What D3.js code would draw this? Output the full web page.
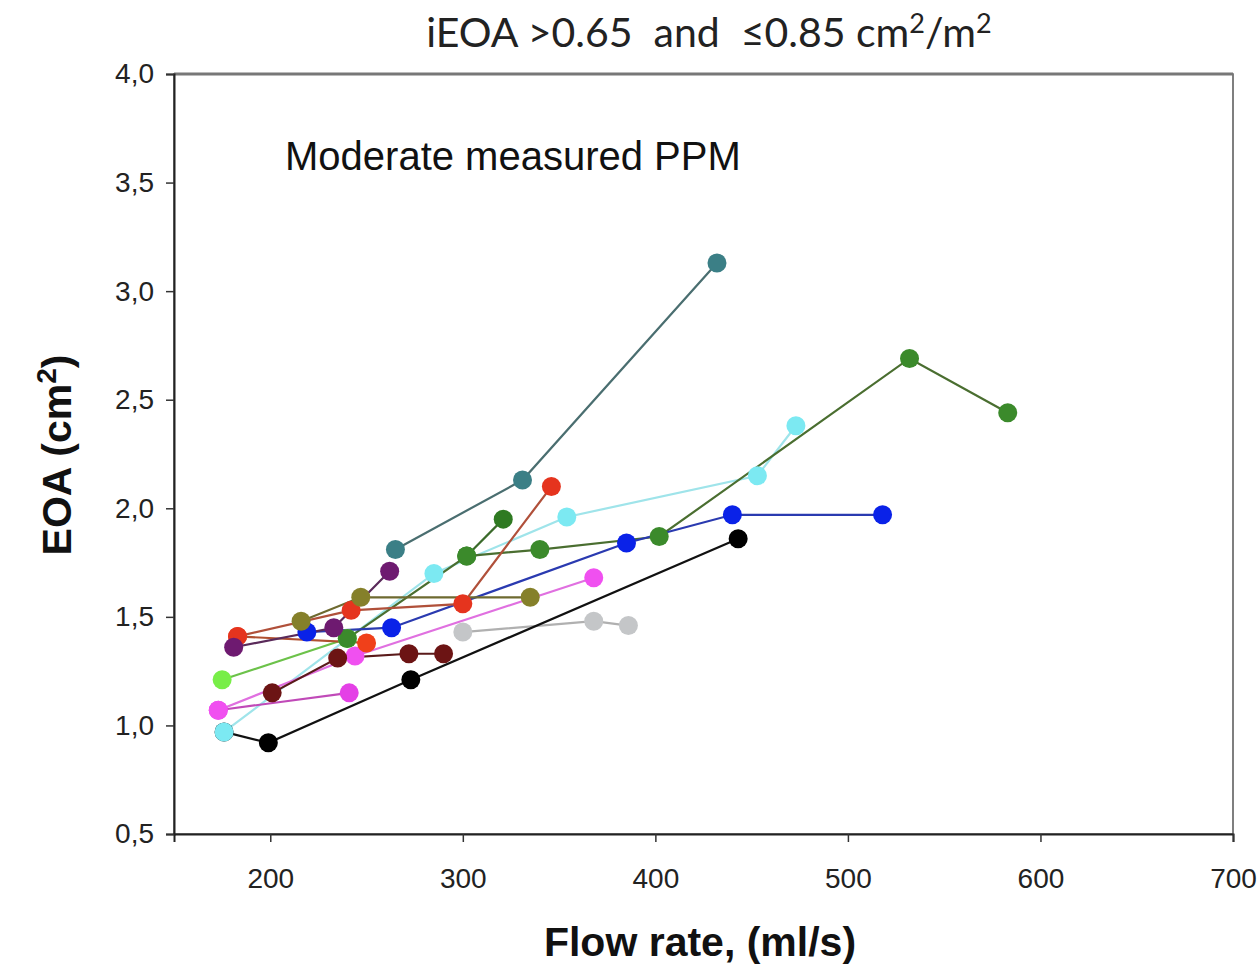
<!DOCTYPE html>
<html>
<head>
<meta charset="utf-8">
<script src="https://cdn.jsdelivr.net/npm/d3@7"></script>
<style>
  body { margin: 0; background: #fff; }
  svg text { font-family: "Liberation Sans", Arial, sans-serif; }
</style>
</head>
<body>
<svg id="chart" width="1259" height="967"></svg>
<script>
// axis ticks
const xTicks = [200, 300, 400, 500, 600, 700];
const yTicks = [0.5, 1.0, 1.5, 2.0, 2.5, 3.0, 3.5, 4.0];

// one array per patient: [flow, EOA]
const teal    = [[265, 1.81], [331, 2.13], [432, 3.13]];
const green   = [[240, 1.40], [302, 1.78], [340, 1.81], [402, 1.87], [532, 2.69], [583, 2.44]];
const green2  = [[302, 1.78], [321, 1.95]];
const lime    = [[175, 1.21], [240, 1.40]];
const red     = [[183, 1.41], [242, 1.53], [300, 1.56], [346, 2.10]];
const orange  = [[183, 1.41], [250, 1.38]];
const purple  = [[181, 1.36], [233, 1.45], [262, 1.71]];
const olive   = [[216, 1.48], [247, 1.59], [335, 1.59]];
const blue    = [[219, 1.43], [263, 1.45], [385, 1.84], [440, 1.97], [518, 1.97]];
const cyan    = [[176, 0.97], [285, 1.70], [354, 1.96], [453, 2.15], [473, 2.38]];
const magenta = [[173, 1.07], [241, 1.15]];
const pink    = [[173, 1.07], [244, 1.32], [368, 1.68]];
const maroon  = [[201, 1.15], [235, 1.31], [272, 1.33], [290, 1.33]];
const black   = [[176, 0.97], [199, 0.92], [273, 1.21], [443, 1.86]];
const gray    = [[300, 1.43], [368, 1.48], [386, 1.46]];

const series = [
  { pts: gray,    fill: "#c4c6c8", line: "#b0b0b0" },
  { pts: black,   fill: "#000000", line: "#111111" },
  { pts: cyan,    fill: "#7ce9f2", line: "#9fe4ea" },
  { pts: lime,    fill: "#78ee48", line: "#6cc24a" },
  { pts: magenta, fill: "#e440e6", line: "#c04ab8" },
  { pts: pink,    fill: "#f050f0", line: "#e070e0" },
  { pts: maroon,  fill: "#6c1414", line: "#5a1a1a" },
  { pts: teal,    fill: "#3b7f86", line: "#4a6e70" },
  { pts: green2,  fill: "#2f7a22", line: "#3a6a2a" },
  { pts: green,   fill: "#3b8a2b", line: "#4a6e30" },
  { pts: blue,    fill: "#0a22e8", line: "#2a3ab0" },
  { pts: orange,  fill: "#f0401a", line: "#b05030" },
  { pts: red,     fill: "#e5341e", line: "#b0503a" },
  { pts: olive,   fill: "#85802a", line: "#6e6a30" },
  { pts: purple,  fill: "#6e1a70", line: "#5a2a5a" }
];

const svg = d3.select("#chart");
const pLeft = 174, pRight = 1233, pTop = 74, pBottom = 834;

const x = d3.scaleLinear().domain([150, 700]).range([pLeft, pRight]);
const y = d3.scaleLinear().domain([0.5, 4.0]).range([pBottom, pTop]);

// frame
svg.append("rect")
  .attr("x", pLeft).attr("y", pTop)
  .attr("width", pRight - pLeft).attr("height", pBottom - pTop)
  .attr("fill", "none").attr("stroke", "#555").attr("stroke-width", 1.5);
svg.append("line")
  .attr("x1", pLeft).attr("x2", pRight).attr("y1", pTop).attr("y2", pTop)
  .attr("stroke", "#777").attr("stroke-width", 3);

const xAxis = svg.append("g")
  .attr("transform", "translate(0," + pBottom + ")")
  .call(d3.axisBottom(x).tickValues(xTicks).tickSize(8).tickPadding(26));
const yAxis = svg.append("g")
  .attr("transform", "translate(" + pLeft + ",0)")
  .call(d3.axisLeft(y).tickValues(yTicks).tickSize(8).tickPadding(12)
    .tickFormat(d => d3.format(".1f")(d).replace(".", ",")));

[xAxis, yAxis].forEach(g => {
  g.select(".domain").attr("stroke", "#222").attr("stroke-width", 2);
  g.selectAll(".tick line").attr("stroke", "#333").attr("stroke-width", 1.5);
  g.selectAll(".tick text")
    .attr("font-size", 28).attr("fill", "#222")
    .style("font-family", "'Liberation Sans', Arial, sans-serif");
});

const line = d3.line().x(d => x(d[0])).y(d => y(d[1]));

const plot = svg.append("g");
series.forEach(s => {
  plot.append("path")
    .attr("d", line(s.pts))
    .attr("fill", "none")
    .attr("stroke", s.line)
    .attr("stroke-width", 2.2);
});
series.forEach(s => {
  plot.selectAll(null)
    .data(s.pts)
    .enter()
    .append("circle")
    .attr("cx", d => x(d[0]))
    .attr("cy", d => y(d[1]))
    .attr("r", 9.5)
    .attr("fill", s.fill);
});

// texts
svg.append("text")
  .attr("x", 709).attr("y", 47)
  .attr("text-anchor", "middle")
  .attr("font-size", 41).attr("fill", "#222")
  .style("font-family", "Lato, 'Open Sans', sans-serif")
  .html('iEOA &gt;0.65 &#160;and &#160;≤0.85 cm<tspan dy="-14" font-size="27">2</tspan><tspan dy="14">/m</tspan><tspan dy="-14" font-size="27">2</tspan>');

svg.append("text")
  .attr("x", 285).attr("y", 170)
  .attr("font-size", 40).attr("fill", "#111")
  .text("Moderate measured PPM");

svg.append("text")
  .attr("transform", "translate(71,455) rotate(-90)")
  .attr("text-anchor", "middle")
  .attr("font-size", 41).attr("font-weight", "bold").attr("fill", "#111")
  .html('EOA (cm<tspan dy="-15" font-size="28">2</tspan><tspan dy="15">)</tspan>');

svg.append("text")
  .attr("x", 700).attr("y", 956)
  .attr("text-anchor", "middle")
  .attr("font-size", 41).attr("font-weight", "bold").attr("fill", "#111")
  .text("Flow rate, (ml/s)");
</script>
</body>
</html>
